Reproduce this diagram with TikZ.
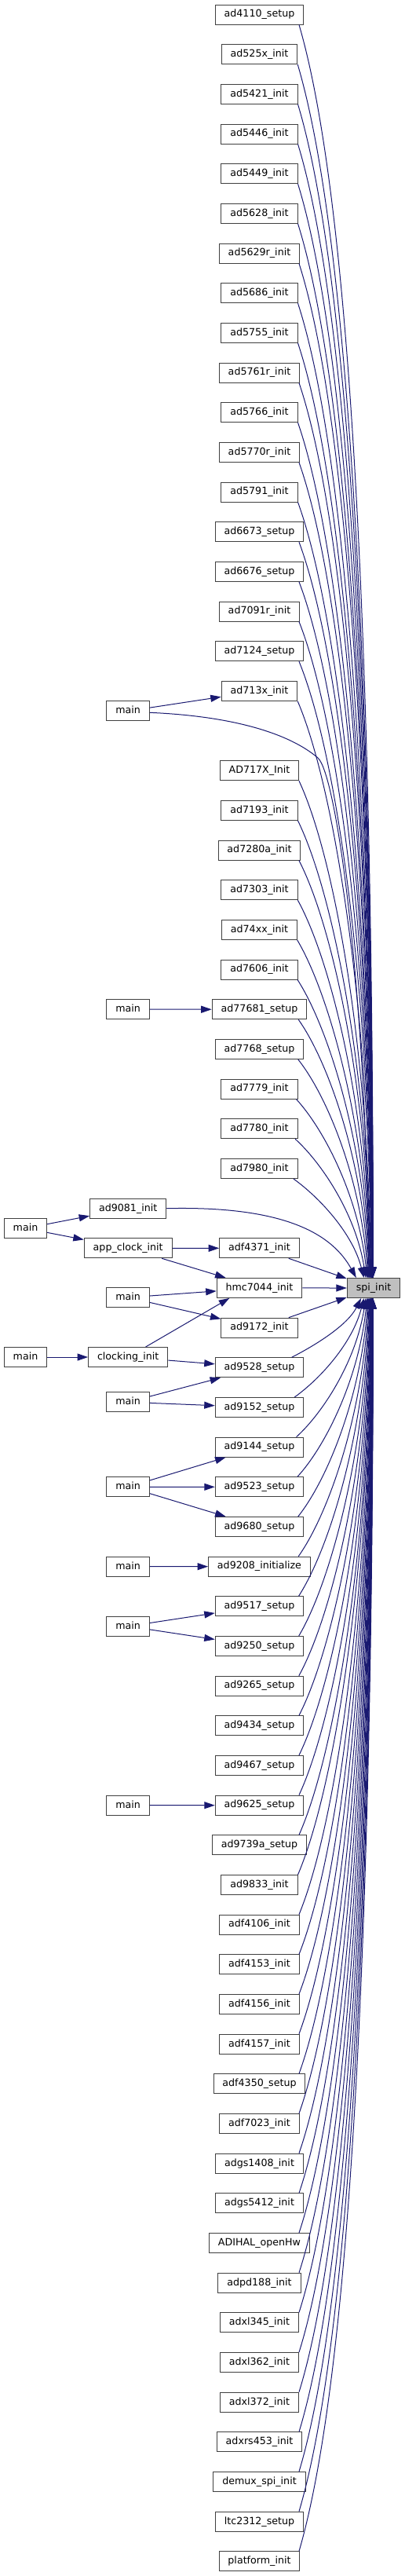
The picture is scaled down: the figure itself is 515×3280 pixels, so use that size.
\documentclass[tikz,border=0pt]{standalone}
\usepackage{fontspec}
\setmainfont{DejaVu Sans}
\usetikzlibrary{calc,arrows.meta}
\definecolor{edgeblue}{HTML}{191970}
\definecolor{boxline}{HTML}{404040}
\definecolor{spigray}{HTML}{BFBFBF}
\tikzset{
  box/.style={draw=boxline, line width=1pt, fill=white, rectangle,
    minimum height=25pt, inner xsep=11.4pt, inner ysep=0pt,
    text height=9.2pt, text depth=2.6pt,
    font=\fontsize{12.65pt}{15pt}\selectfont},
  edge/.style={draw=edgeblue, line width=1pt,
    -{Triangle[length=13.5pt,width=9pt]}},
}
\begin{document}
\begin{tikzpicture}[x=1pt,y=-1pt]
\useasboundingbox (0,0) rectangle (515,3280);
% right column
\foreach \k/\t in {0/ad4110\_setup,1/ad525x\_init,2/ad5421\_init,3/ad5446\_init,
  4/ad5449\_init,5/ad5628\_init,6/ad5629r\_init,7/ad5686\_init,8/ad5755\_init,
  9/ad5761r\_init,10/ad5766\_init,11/ad5770r\_init,12/ad5791\_init,
  13/ad6673\_setup,14/ad6676\_setup,15/ad7091r\_init,16/ad7124\_setup,
  17/ad713x\_init,19/AD717X\_Init,20/ad7193\_init,21/ad7280a\_init,
  22/ad7303\_init,23/ad74xx\_init,24/ad7606\_init,25/ad77681\_setup,
  26/ad7768\_setup,27/ad7779\_init,28/ad7780\_init,29/ad7980\_init,
  31/adf4371\_init,32/hmc7044\_init,33/ad9172\_init,34/ad9528\_setup,
  35/ad9152\_setup,36/ad9144\_setup,37/ad9523\_setup,38/ad9680\_setup,
  39/ad9208\_initialize,40/ad9517\_setup,41/ad9250\_setup,42/ad9265\_setup,
  43/ad9434\_setup,44/ad9467\_setup,45/ad9625\_setup,46/ad9739a\_setup,
  47/ad9833\_init,48/adf4106\_init,49/adf4153\_init,50/adf4156\_init,
  51/adf4157\_init,52/adf4350\_setup,53/adf7023\_init,54/adgs1408\_init,
  55/adgs5412\_init,56/ADIHAL\_openHw,57/adpd188\_init,58/adxl345\_init,
  59/adxl362\_init,60/adxl372\_init,61/adxrs453\_init,62/demux\_spi\_init,
  63/ltc2312\_setup,64/platform\_init}
  { \node[box] (r\k) at (330.5,{18.5+50.67*\k}) {\t}; }
% target
\node[box, fill=spigray] (spi) at (476,1640) {spi\_init};
% left columns
\node[box] (m17) at (163.2,905.3) {main};
\node[box] (m25) at (163.2,1285.2) {main};
\node[box] (ad9081) at (163.2,1538.7) {ad9081\_init};
\node[box] (mL1) at (32.5,1564) {main};
\node[box] (appclk) at (163.2,1589.3) {app\_clock\_init};
\node[box] (m32) at (163.2,1652) {main};
\node[box] (mL2) at (32.5,1728) {main};
\node[box] (clk) at (163.2,1728) {clocking\_init};
\node[box] (m35) at (163.2,1785.3) {main};
\node[box] (m37) at (163.2,1893.3) {main};
\node[box] (m39) at (163.2,1994.7) {main};
\node[box] (m40) at (163.2,2070.7) {main};
\node[box] (m45) at (163.2,2298.7) {main};
% straight edges
\draw[edge] (m17) -- (r17);
\draw[edge] (m25) -- (r25);
\draw[edge] (mL1) -- (ad9081);
\draw[edge] (mL1) -- (appclk);
\draw[edge] (appclk) -- (r31);
\draw[edge] (appclk) -- (r32);
\draw[edge] (m32) -- (r32);
\draw[edge] (m32) -- (r33);
\draw[edge] (mL2) -- (clk);
\draw[edge] (clk) -- ($(r32.south west)+(16.6,0)$);
\draw[edge] (clk) -- (r34);
\draw[edge] (m35) -- (r34);
\draw[edge] (m35) -- (r35);
\draw[edge] (m37) -- (r36);
\draw[edge] (m37) -- (r37);
\draw[edge] (m37) -- (r38);
\draw[edge] (m39) -- (r39);
\draw[edge] (m40) -- (r40);
\draw[edge] (m40) -- (r41);
\draw[edge] (m45) -- (r45);
\draw[edge] (r31) -- (spi);
\draw[edge] (r32) -- (spi);
\draw[edge] (r33) -- (spi);
% curved edges into spi_init
\draw[edge] ($(m17.east)+(0,2)$) .. controls (300,912) and (370,935) .. (405,965)
  .. controls (428,985) and (466,1250) .. ($(spi.north)+(-6,0)$);
\draw[edge] (ad9081.east) .. controls (370,1535) and (425,1575) .. ($(spi.north west)+(12,0)$);
\foreach \k in {0,...,17,19,20,...,29}{
  \draw[edge] let \p1=(r\k.south east), \p2=(spi.north), \n1={\y1-\y2} in
    ({min(\x1,381pt)-20*exp(-min(\n1/100,9))*1pt},\y1)
    .. controls +({(30+0.026*\n1)*1pt},{-(0.15*\n1+5)*1pt})
    and +({-22*exp(-\n1/300)*1pt},{0.45*\n1*1pt})
    .. ({\x2-(10*exp(-\n1/600)+15*exp(-min(\n1/100,9)))*1pt},\y2);
}
\foreach \k in {34,...,64}{
  \draw[edge] let \p1=(r\k.north east), \p2=(spi.south), \n1={\y2-\y1} in
    ({min(\x1,381pt)-20*exp(-min(\n1/100,9))*1pt},\y1)
    .. controls +({(30+0.026*\n1)*1pt},{(0.15*\n1+5)*1pt})
    and +({-22*exp(-\n1/300)*1pt},{-0.45*\n1*1pt})
    .. ({\x2-(10*exp(-\n1/600)+15*exp(-min(\n1/100,9)))*1pt},\y2);
}
\end{tikzpicture}
\end{document}
